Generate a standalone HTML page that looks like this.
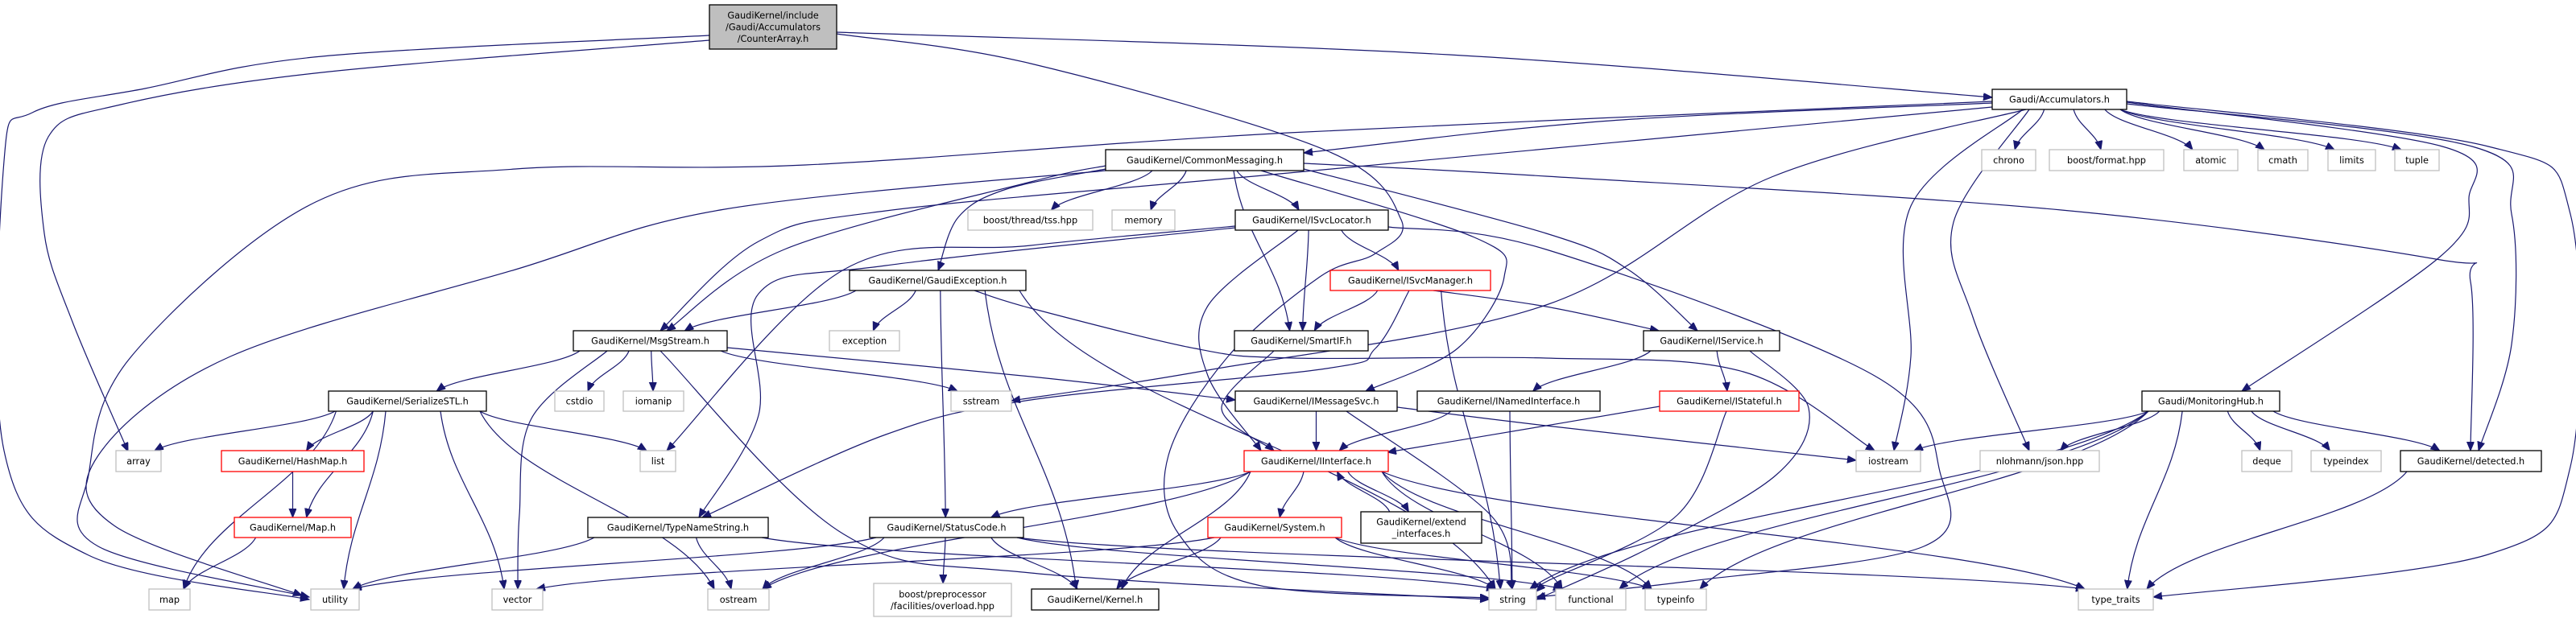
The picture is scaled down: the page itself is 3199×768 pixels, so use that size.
<!DOCTYPE html>
<html><head><meta charset="utf-8"><style>
html,body{margin:0;padding:0;background:#fff;}
svg{display:block;}
text{font-family:"DejaVu Sans","Liberation Sans",sans-serif;font-size:11.3px;fill:#000;}
</style></head><body>
<svg id="g" xmlns="http://www.w3.org/2000/svg" width="3199" height="768" viewBox="0 0 3199 768">
<defs><marker id="ah" markerUnits="userSpaceOnUse" markerWidth="12" markerHeight="10" refX="11" refY="4.5" orient="auto"><path d="M0,0 L11,4.5 L0,9 z" fill="#191970" stroke="#191970"/></marker></defs>
<g id="edges"></g><g id="nodes"></g>
</svg>
<script>
var A=[6,61],B=[111,136],C=[186,212],D=[261,286],E=[336,361],F=[411,436],G=[486,511],H=[560,586],I=[643,668],J=[732,758];
var N={};
function n(id,x1,r,x2,lab,t,y1o,y2o){N[id]={x1:x1,y1:y1o||r[0],x2:x2,y2:y2o||r[1],lab:lab,t:t||'b'};}
n('ca',881,A,1039,['GaudiKernel/include','/Gaudi/Accumulators','/CounterArray.h'],'m');
n('acc',2474,B,2641,['Gaudi/Accumulators.h']);
n('cm',1373,C,1619,['GaudiKernel/CommonMessaging.h']);
n('chrono',2461,C,2528,['chrono'],'g');n('bfmt',2545,C,2687,['boost/format.hpp'],'g');
n('atomic',2712,C,2779,['atomic'],'g');n('cmath',2804,C,2866,['cmath'],'g');
n('limits',2891,C,2950,['limits'],'g');n('tuple',2974,C,3029,['tuple'],'g');
n('tss',1202,D,1357,['boost/thread/tss.hpp'],'g');n('memory',1381,D,1459,['memory'],'g');
n('svcloc',1534,D,1724,['GaudiKernel/ISvcLocator.h']);
n('gexc',1055,E,1274,['GaudiKernel/GaudiException.h']);n('svcmgr',1652,E,1851,['GaudiKernel/ISvcManager.h'],'r');
n('msg',712,F,903,['GaudiKernel/MsgStream.h']);n('exception',1030,F,1117,['exception'],'g');
n('smartif',1533,F,1699,['GaudiKernel/SmartIF.h']);n('iservice',2041,F,2210,['GaudiKernel/IService.h']);
n('ser',408,G,604,['GaudiKernel/SerializeSTL.h']);n('cstdio',689,G,750,['cstdio'],'g');
n('iomanip',774,G,849,['iomanip'],'g');n('sstream',1181,G,1256,['sstream'],'g');
n('imsg',1534,G,1735,['GaudiKernel/IMessageSvc.h']);n('inamed',1760,G,1987,['GaudiKernel/INamedInterface.h']);
n('istate',2061,G,2234,['GaudiKernel/IStateful.h'],'r');n('mon',2660,G,2831,['Gaudi/MonitoringHub.h']);
n('array',144,H,200,['array'],'g');n('hashmap',275,H,452,['GaudiKernel/HashMap.h'],'r');
n('list',795,H,839,['list'],'g');n('iif',1545,H,1724,['GaudiKernel/IInterface.h'],'r');
n('iostream',2305,H,2385,['iostream'],'g');n('nlohmann',2459,H,2607,['nlohmann/json.hpp'],'g');
n('deque',2784,H,2846,['deque'],'g');n('typeindex',2870,H,2957,['typeindex'],'g');
n('detected',2981,H,3156,['GaudiKernel/detected.h']);
n('maph',291,I,436,['GaudiKernel/Map.h'],'r');n('tns',730,I,954,['GaudiKernel/TypeNameString.h']);
n('sc',1080,I,1271,['GaudiKernel/StatusCode.h']);n('system',1500,I,1666,['GaudiKernel/System.h'],'r');
n('ext',1690,I,1840,['GaudiKernel/extend','_interfaces.h'],'b',636,675);
n('map',185,J,236,['map'],'g');n('utility',386,J,446,['utility'],'g');n('vector',611,J,674,['vector'],'g');
n('ostream',879,J,955,['ostream'],'g');n('bpp',1085,J,1256,['boost/preprocessor','/facilities/overload.hpp'],'g',725,766);
n('kernel',1281,J,1439,['GaudiKernel/Kernel.h']);n('string',1849,J,1908,['string'],'g');
n('functional',1932,J,2019,['functional'],'g');n('typeinfo',2043,J,2119,['typeinfo'],'g');
n('tt',2581,J,2674,['type_traits'],'g');

var Ed=[
['ca','acc',[[1039,40],[1800,68],[2474,121]]],
['ca','array',[[881,50],[400,90],[150,130],[60,170],[55,290],[90,400],[159,561]]],
['ca','utility',[[881,44],[400,70],[180,110],[40,140],[5,200],[5,560],[110,690],[384,745]]],
['ca','string',[[1039,42],[1280,79],[1647,187],[1740,273],[1708,315],[1639,344],[1525,443],[1451,566],[1464,664],[1566,728],[1849,743]]],
['acc','cm',[[2474,128],[2000,150],[1619,190]]],
['acc','msg',[[2474,133],[1600,215],[1100,262],[942,300],[820,411]]],
['acc','utility',[[2474,126],[1600,165],[1000,205],[640,210],[392,251],[163,443],[110,590],[122,679],[384,742]]],
['acc','sstream',[[2516,136],[2200,220],[1920,379],[1500,460],[1256,498]]],
['acc','iostream',[[2512,136],[2373,256],[2373,443],[2352,560]]],
['acc','nlohmann',[[2520,136],[2426,276],[2450,394],[2520,560]]],
['acc','chrono'],['acc','bfmt'],['acc','atomic'],['acc','cmath'],['acc','limits'],['acc','tuple'],
['acc','mon',[[2641,127],[3033,182],[3066,246],[3029,320],[2784,486]]],
['acc','detected',[[2641,129],[3070,182],[3119,266],[3119,428],[3078,560]]],
['acc','tt',[[2641,126],[3090,182],[3192,266],[3192,580],[3090,689],[2674,742]]],
['cm','msg',[[1373,206],[1280,226],[974,310],[828,411]]],
['cm','utility',[[1373,212],[900,260],[640,335],[286,443],[122,566],[143,654],[375,740]]],
['cm','tss'],['cm','memory'],['cm','svcloc'],
['cm','gexc',[[1373,210],[1250,235],[1190,270],[1165,336]]],
['cm','smartif'],
['cm','imsg',[[1566,212],[1831,295],[1868,344],[1810,433],[1696,486]]],
['cm','iservice',[[1619,210],[1920,290],[2022,335],[2108,411]]],
['cm','detected',[[1619,203],[1920,219],[2560,261],[3025,322],[3068,350],[3068,560]]],
['svcloc','list',[[1534,281],[1280,305],[1048,335],[828,560]]],
['svcloc','tns',[[1534,283],[1100,330],[942,365],[942,516],[868,643]]],
['svcloc','iif',[[1612,286],[1500,380],[1500,467],[1566,560]]],
['svcloc','smartif'],['svcloc','svcmgr'],
['svcloc','string',[[1724,282],[1920,310],[2328,467],[2410,590],[2389,679],[2100,722],[1908,742]]],
['gexc','msg'],['gexc','exception'],['gexc','sc'],['gexc','kernel'],['gexc','string'],
['gexc','iostream',[[1210,361],[1280,383],[1484,433],[1606,445],[1920,445],[2165,462],[2328,560]]],
['svcmgr','smartif'],
['svcmgr','iservice',[[1780,361],[1920,381],[2060,411]]],
['svcmgr','string'],
['svcmgr','tns',[[1750,361],[1708,433],[1647,458],[1280,497],[1100,540],[872,643]]],
['msg','ser'],['msg','cstdio'],['msg','iomanip'],['msg','sstream'],
['msg','imsg',[[903,432],[1280,468],[1534,497]]],
['msg','vector',[[754,436],[660,520],[645,640],[643,732]]],
['msg','string',[[820,436],[1048,664],[1280,712],[1849,745]]],
['smartif','iif',[[1582,436],[1517,507],[1582,560]]],
['iservice','inamed'],['iservice','istate'],
['iservice','string',[[2173,436],[2246,507],[2206,590],[2050,680],[1908,745]]],
['ser','array'],['ser','hashmap'],['ser','maph'],['ser','list'],['ser','map'],['ser','utility'],['ser','vector'],['ser','ostream'],
['imsg','iif'],
['imsg','iostream',[[1735,506],[1920,529],[2305,572]]],
['imsg','string',[[1672,511],[1851,640],[1878,732]]],
['inamed','iif'],['inamed','string'],
['istate','iif',[[2061,505],[1920,529],[1723,562]]],
['istate','string',[[2144,511],[2083,640],[1920,723],[1908,735]]],
['mon','iostream'],['mon','nlohmann'],['mon','deque'],['mon','typeindex'],['mon','detected'],
['mon','string'],['mon','functional'],['mon','typeinfo'],['mon','tt'],
['hashmap','maph'],['maph','map'],
['iif','ostream'],['iif','sc'],['iif','system'],['iif','ext'],['iif','kernel'],['iif','typeinfo'],['iif','tt'],['iif','functional'],
['ext','iif'],
['tns','utility'],['tns','ostream'],['tns','string'],
['sc','utility'],['sc','ostream'],['sc','bpp'],['sc','kernel'],['sc','functional'],['sc','tt'],
['system','vector'],['system','kernel'],['system','string'],['system','typeinfo'],
['detected','tt']
];
function cl(v,a,b){return Math.max(a,Math.min(b,v));}
function cr(p){var d='M'+p[0][0]+','+p[0][1];for(var i=0;i<p.length-1;i++){var p0=p[i>0?i-1:i],p1=p[i],p2=p[i+1],p3=p[i+2<p.length?i+2:i+1];
d+=' C'+(p1[0]+(p2[0]-p0[0])/6).toFixed(1)+','+(p1[1]+(p2[1]-p0[1])/6).toFixed(1)+' '+(p2[0]-(p3[0]-p1[0])/6).toFixed(1)+','+(p2[1]-(p3[1]-p1[1])/6).toFixed(1)+' '+p2[0]+','+p2[1];}return d;}
var eg='';
Ed.forEach(function(e){var s=N[e[0]],t=N[e[1]],d;
if(e[2]){d=cr(e[2]);}else{var cs=(s.x1+s.x2)/2,ct=(t.x1+t.x2)/2,sx,sy,ex,ey;
if(t.y2<s.y1){sx=cl(cs+(ct-cs)*0.3,s.x1+8,s.x2-8);sy=s.y1;ex=cl(ct+(cs-ct)*0.2,t.x1+8,t.x2-8);ey=t.y2;}
else{sx=cl(cs+(ct-cs)*0.3,s.x1+8,s.x2-8);sy=s.y2;ex=cl(ct+(cs-ct)*0.12,t.x1+8,t.x2-8);ey=t.y1;}
var dy=ey-sy;d='M'+sx.toFixed(1)+','+sy+' C'+(sx+(ex-sx)*0.15).toFixed(1)+','+(sy+dy*0.4).toFixed(1)+' '+(ex-(ex-sx)*0.15).toFixed(1)+','+(ey-dy*0.4).toFixed(1)+' '+ex.toFixed(1)+','+ey;}
eg+='<path d="'+d+'" fill="none" stroke="#191970" stroke-width="1.2" marker-end="url(#ah)"/>';});
document.getElementById('edges').innerHTML=eg;
var ng='';
for(var k in N){var o=N[k];var st=o.t=='g'?'#bfbfbf':o.t=='r'?'#ff0000':'#000';var fi=o.t=='m'?'#bfbfbf':'#fff';
ng+='<rect x="'+o.x1+'" y="'+o.y1+'" width="'+(o.x2-o.x1)+'" height="'+(o.y2-o.y1)+'" fill="'+fi+'" stroke="'+st+'" stroke-width="1.3"/>';
var L=o.lab.length,cx=(o.x1+o.x2)/2,cy=(o.y1+o.y2)/2,lh=14.5;
for(var i=0;i<L;i++){var y=cy+(i-(L-1)/2)*lh+4;ng+='<text x="'+cx+'" y="'+y.toFixed(1)+'" text-anchor="middle">'+o.lab[i]+'</text>';}}
document.getElementById('nodes').innerHTML=ng;
</script>
</body></html>
